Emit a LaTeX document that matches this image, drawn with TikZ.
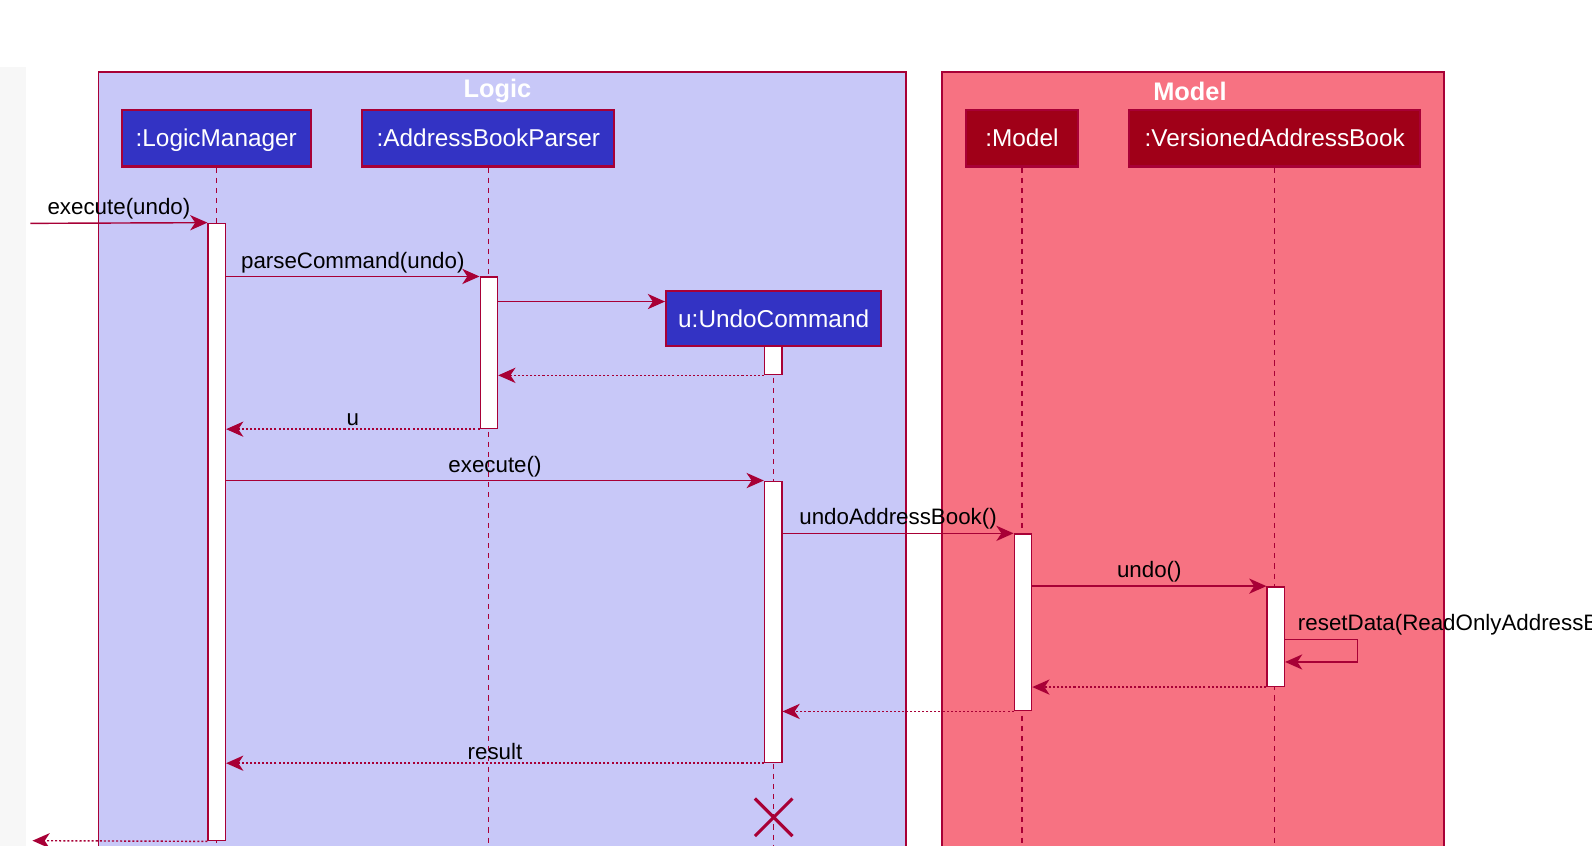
\documentclass[tikz,border=0pt]{standalone}
\usepackage{fontspec}
\setmainfont{Liberation Sans}
\usetikzlibrary{arrows.meta, fit, shapes.misc}
\definecolor{umlred}{HTML}{A80036}
\definecolor{logicfill}{HTML}{C8C8F8}
\definecolor{modelfill}{HTML}{F77282}
\definecolor{logicbox}{HTML}{3333C4}
\definecolor{modelbox}{HTML}{A00018}

\begin{document}
\begin{tikzpicture}[x=0.5pt, y=-0.5pt,
    every node/.style={font=\fontsize{11}{13}\selectfont},
    frame/.style={draw=umlred, line width=0.9pt},
    title/.style={text=white, font=\bfseries\fontsize{12.5}{14}\selectfont},
    actor/.style={draw=umlred, line width=1pt, text=white, minimum height=28pt, inner sep=0pt, text depth=0pt, font=\fontsize{12}{14}\selectfont},
    lifeline/.style={umlred, line width=0.6pt, dash pattern=on 2.5pt off 2.5pt},
    act/.style={draw=umlred, fill=white, line width=0.7pt, inner sep=0pt},
    msg/.style={umlred, line width=0.7pt, -{Stealth[length=8.5pt, width=7.5pt, inset=2.5pt]}},
    reply/.style={msg, dash pattern=on 1pt off 1pt},
    lbl/.style={above, inner sep=1.5pt, text=black}]
        \useasboundingbox (0,0) rectangle (1568,833);
        \clip (0,0) rectangle (1568,833);
        \fill[black!3] (0,66) rectangle (26,833);

        % Frames
        \draw[frame, fill=logicfill] (97,71) rectangle (892,850);
        \draw[frame, fill=modelfill] (928,71) rectangle (1422,850);
        \node[title] (logicTitle) at (490,90) {Logic};
        \node[title] (modelTitle) at (1172,90) {Model};

        % Participants
        \node[actor, fill=logicbox, minimum width=93pt] (manager) at (213,136) {:LogicManager};
        \node[actor, fill=logicbox, minimum width=124pt] (parser) at (481,136) {:AddressBookParser};
        \node[actor, fill=logicbox, minimum width=106pt, minimum height=27pt] (command) at (762,314) {u:UndoCommand};
        \node[actor, fill=modelbox, minimum width=55.5pt] (model) at (1006.5,136) {:Model};
        \node[actor, fill=modelbox, minimum width=143.5pt] (book) at (1255.5,136) {:VersionedAddressBook};

        % Lifelines
        \draw[lifeline] (manager.south) -- (manager.south |- 0,833);
        \draw[lifeline] (parser.south) -- (parser.south |- 0,833);
        \draw[lifeline] (command.south) -- (command.south |- 0,833);
        \draw[lifeline] (model.south) -- (model.south |- 0,833);
        \draw[lifeline] (book.south) -- (book.south |- 0,833);

        % Activations
        \node[act, fit={(205,220) (222,828)}] (managerAct) {};
        \node[act, fit={(473,273) (490,422)}] (parserAct) {};
        \node[act, fit={(753,341) (770,369)}] (commandNew) {};
        \node[act, fit={(753,474) (770,751)}] (commandAct) {};
        \node[act, fit={(999,526) (1016,700)}] (modelAct) {};
        \node[act, fit={(1248,578) (1265,676)}] (bookAct) {};

        % Messages
        \coordinate (caller) at (30,220);
        \coordinate (back) at (32,828);
        \draw[msg] (caller) -- node[lbl] {execute(undo)} (managerAct.north west);
        \draw[msg] (managerAct.east |- parserAct.north) -- node[lbl] {parseCommand(undo)} (parserAct.north west);
        \draw[msg] (parserAct.east |- 0,297) -- (command.west |- 0,297);
        \draw[reply] (commandNew.south west) -- (parserAct.east |- commandNew.south);
        \draw[reply] (parserAct.south west) -- node[lbl] {u} (managerAct.east |- parserAct.south);
        \draw[msg] (managerAct.east |- commandAct.north) -- node[lbl] {execute()} (commandAct.north west);
        \draw[msg] (commandAct.east |- modelAct.north) -- node[lbl] {undoAddressBook()} (modelAct.north west);
        \draw[msg] (modelAct.east |- bookAct.north) -- node[lbl] {undo()} (bookAct.north west);
        \draw[msg] (bookAct.east |- 0,630) -- (1337,630) -- (1337,652) -- (bookAct.east |- 0,652);
        \node[right, inner sep=0pt, text=black] (resetLbl) at (1278,615) {resetData(ReadOnlyAddressBook)};
        \draw[reply] (bookAct.south west) -- (modelAct.east |- bookAct.south);
        \draw[reply] (modelAct.south west) -- (commandAct.east |- modelAct.south);
        \draw[reply] (commandAct.south west) -- node[lbl] {result} (managerAct.east |- commandAct.south);
        \draw[reply] (managerAct.south west) -- (back);

        % Destroy
        \node[cross out, draw=umlred, line width=1.5pt, minimum size=17pt, inner sep=0pt] (destroy) at (762,805) {};
    \end{tikzpicture}
\end{document}
